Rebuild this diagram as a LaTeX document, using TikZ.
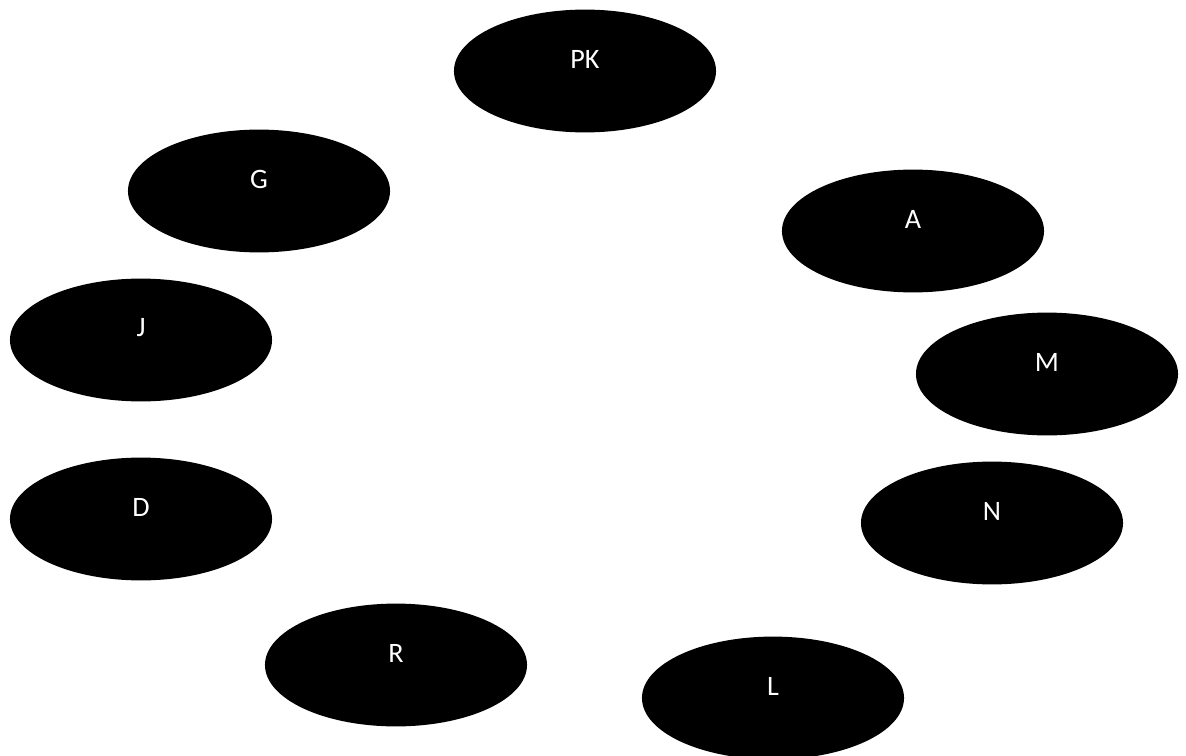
\documentclass[tikz,border=0pt]{standalone}
\usepackage{fontspec}
\setmainfont{Carlito}
\usetikzlibrary{shapes.geometric}

\tikzset{
  blob/.style={ellipse, fill=black, draw=none, minimum width=6.55cm, minimum height=3.07cm, inner sep=0pt},
  tag/.style={text=white, font=\fontsize{20}{24}\selectfont, yshift=0.3cm}
}

\begin{document}
\begin{tikzpicture}[x=0.025cm, y=-0.025cm]
\useasboundingbox (0,0) rectangle (1186,756);

% ring of names
\node[blob, label={[tag]center:PK}] (pk) at (585,71) {};
\node[blob, label={[tag]center:G}] (g) at (259,191) {};
\node[blob, label={[tag]center:A}] (a) at (913,231) {};
\node[blob, label={[tag]center:J}] (j) at (141,340) {};
\node[blob, label={[tag]center:M}] (m) at (1047,374) {};
\node[blob, label={[tag]center:D}] (d) at (141,519) {};
\node[blob, label={[tag]center:N}] (n) at (992,523) {};
\node[blob, label={[tag]center:R}] (r) at (396,665) {};
\node[blob, label={[tag]center:L}] (l) at (773,698) {};
\end{tikzpicture}
\end{document}
